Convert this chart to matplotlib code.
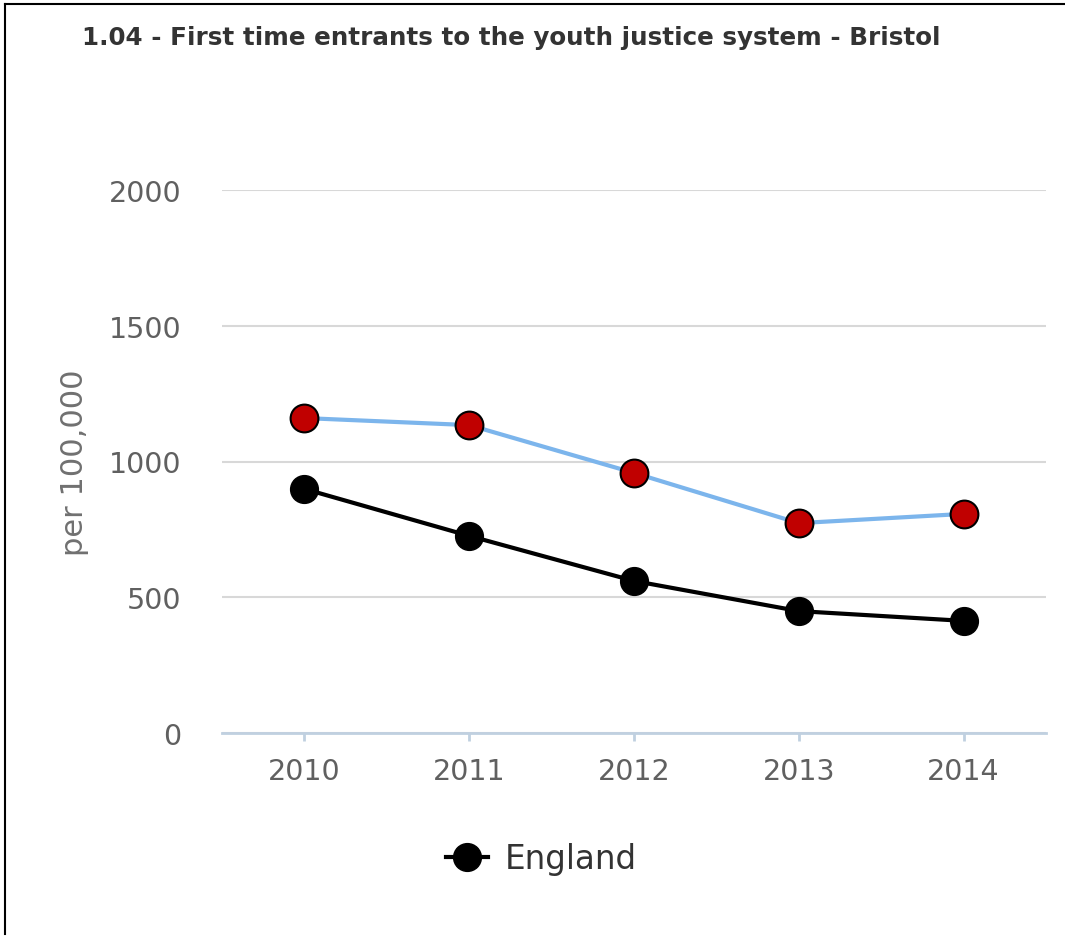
import matplotlib
matplotlib.use("Agg")
import matplotlib.pyplot as plt
from matplotlib.lines import Line2D

years = [2010, 2011, 2012, 2013, 2014]
bristol = [1160, 1134, 958, 773, 807]
england = [899, 726, 560, 449, 413]
y_ticks = [0, 500, 1000, 1500, 2000]

fig = plt.figure(figsize=(10.65, 9.37), dpi=100)
ax = fig.add_axes([222 / 1065, 1 - 734 / 937, (1046 - 222) / 1065, (734 - 191) / 937])

# bristol line, red dots
ax.plot(years, bristol, color='#7cb5ec', lw=3, marker='o', markersize=20,
        markerfacecolor='#c00000', markeredgecolor='black', markeredgewidth=1.5,
        clip_on=False, zorder=3)
# england line
ax.plot(years, england, color='black', lw=3, marker='o', markersize=20,
        markerfacecolor='black', markeredgecolor='black',
        clip_on=False, zorder=4, label='England')

ax.set_xlim(2009.5, 2014.5)
ax.set_ylim(0, 2000)
ax.set_xticks(years)
ax.set_xticklabels([str(y) for y in years])
ax.set_yticks(y_ticks)
ax.grid(axis='y', color='#d8d8d8', lw=1.5)
ax.set_axisbelow(True)
for side in ['top', 'right', 'left']:
    ax.spines[side].set_visible(False)
ax.spines['bottom'].set_color('#c0d0e0')
ax.spines['bottom'].set_linewidth(2)
ax.tick_params(axis='x', colors='#c0d0e0', length=6, width=2, labelcolor='#606060',
               labelsize=20.5, pad=11)
ax.tick_params(axis='y', length=0, labelcolor='#606060', labelsize=20.5, pad=29)
ax.set_ylabel('per 100,000', color='#707070', fontsize=22, labelpad=8)
ax.yaxis.set_label_coords(-0.162, 0.5)

fig.text(82 / 1065, 1 - 38 / 937, '1.04 - First time entrants to the youth justice system - Bristol',
         fontsize=17.75, fontweight='bold', color='#333333', va='center', ha='left')

leg = fig.legend(loc='center', bbox_to_anchor=(541 / 1065, 1 - 860 / 937), frameon=False,
                 fontsize=23.5, handlelength=1.3, handletextpad=0.5, markerscale=1.0)
for t in leg.get_texts():
    t.set_color('#333333')

# frame lines on the top and left edges
fig.add_artist(Line2D([5 / 1065, 1], [1 - 5 / 937, 1 - 5 / 937], color='black', lw=1.5,
                      transform=fig.transFigure))
fig.add_artist(Line2D([5 / 1065, 5 / 1065], [1 - 5 / 937, 2 / 937], color='black', lw=1.5,
                      transform=fig.transFigure))

fig.savefig('out.png', dpi=100)
